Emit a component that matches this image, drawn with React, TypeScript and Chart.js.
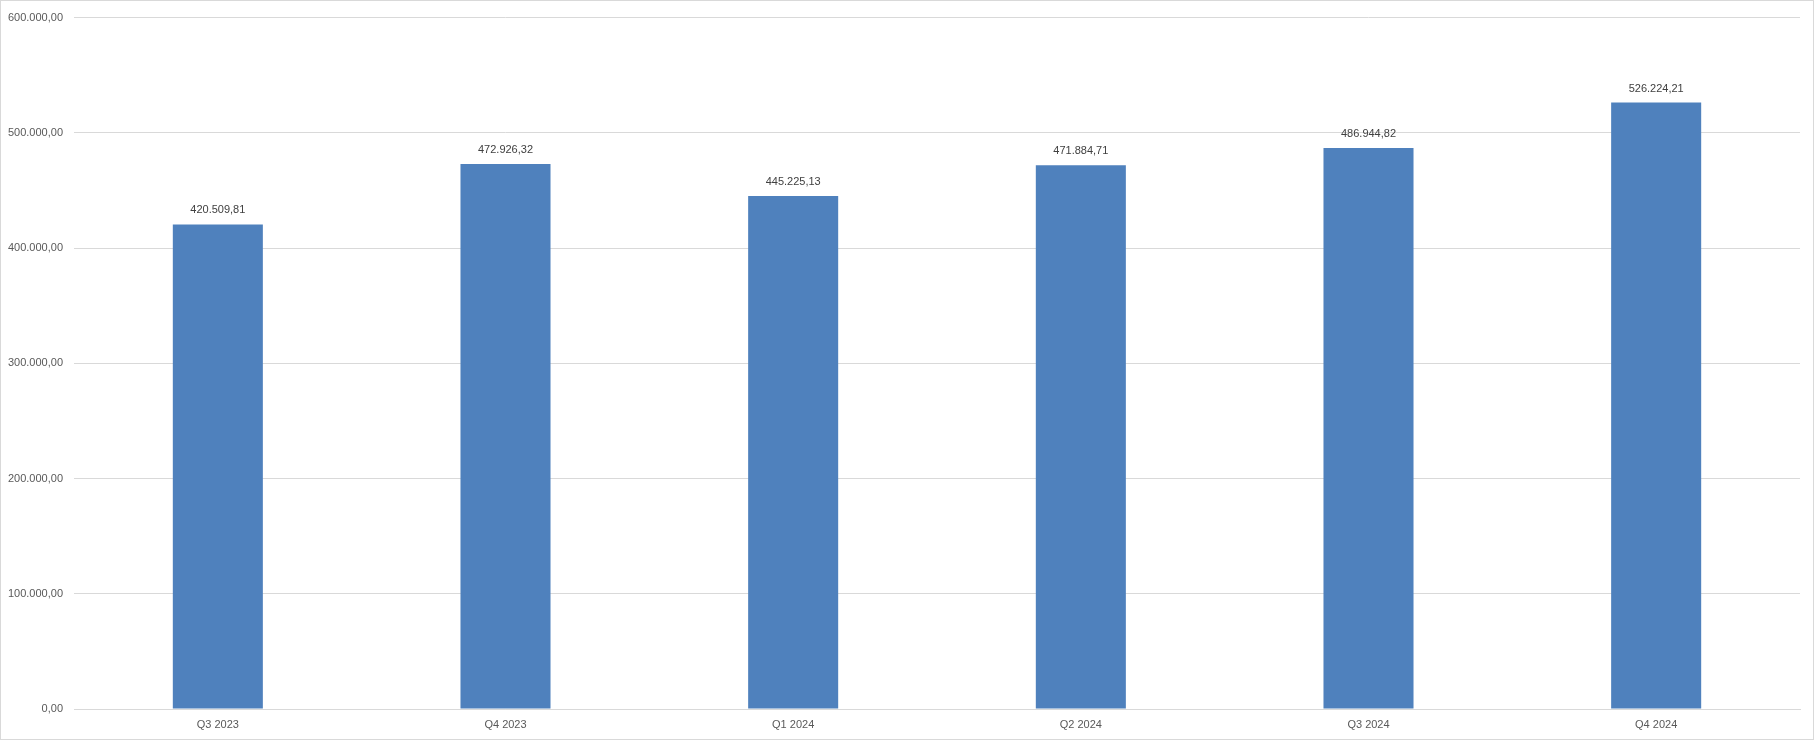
import React, { useEffect, useRef } from "react";
import { Chart, registerables } from "chart.js";

Chart.register(...registerables);

const categories = ["Q3 2023", "Q4 2023", "Q1 2024", "Q2 2024", "Q3 2024", "Q4 2024"];
const seriesValues = [420509.81, 472926.32, 445225.13, 471884.71, 486944.82, 526224.21];
const yMin = 0;
const yMax = 600000;
const yStep = 100000;

const fmt = (v: number) => {
  const fixed = Math.abs(v).toFixed(2);
  const [intPart, dec] = fixed.split(".");
  const withDots = intPart.replace(/\B(?=(\d{3})+(?!\d))/g, ".");
  return (v < 0 ? "-" : "") + withDots + "," + dec;
};

const FONT = "'Liberation Sans', Arial, sans-serif";

export default function App() {
  const ref = useRef<HTMLCanvasElement | null>(null);
  useEffect(() => {
    if (!ref.current) return;
    const borderPlugin = {
      id: "outerBorder",
      beforeDraw(chart: any) {
        const { ctx, width, height } = chart;
        ctx.save();
        ctx.fillStyle = "#ffffff";
        ctx.fillRect(0, 0, width, height);
        ctx.strokeStyle = "#d9d9d9";
        ctx.lineWidth = 1;
        ctx.strokeRect(0.5, 0.5, width - 1, height - 1);
        ctx.restore();
      },
    };
    const labelPlugin = {
      id: "valueLabels",
      afterDatasetsDraw(chart: any) {
        const { ctx } = chart;
        const meta = chart.getDatasetMeta(0);
        ctx.save();
        ctx.font = `11px ${FONT}`;
        ctx.fillStyle = "#404040";
        ctx.textAlign = "center";
        ctx.textBaseline = "middle";
        meta.data.forEach((bar: any, i: number) => {
          ctx.fillText(fmt(seriesValues[i]), bar.x, bar.y - 14);
        });
        ctx.restore();
      },
    };
    const chart = new Chart(ref.current, {
      type: "bar",
      data: {
        labels: categories,
        datasets: [
          {
            data: seriesValues,
            backgroundColor: "#4F81BD",
            borderWidth: 0,
            categoryPercentage: 1,
            barPercentage: 0.313,
          },
        ],
      },
      options: {
        responsive: false,
        animation: false,
        devicePixelRatio: 1,
        layout: { padding: { top: 15, right: 14, bottom: 0, left: 0 } },
        plugins: {
          legend: { display: false },
          tooltip: { enabled: false },
        },
        scales: {
          x: {
            grid: { display: false, drawTicks: false },
            border: { display: true, color: "#d9d9d9", width: 1 },
            ticks: {
              color: "#595959",
              font: { family: FONT, size: 11 },
              padding: 9,
              maxRotation: 0,
            },
            afterFit(scale: any) {
              scale.height = 31;
            },
          },
          y: {
            min: yMin,
            max: yMax,
            grid: { color: "#d9d9d9", drawTicks: false },
            border: { display: false },
            ticks: {
              stepSize: yStep,
              color: "#595959",
              font: { family: FONT, size: 11 },
              padding: 11,
              callback: (v: any) => fmt(Number(v)),
            },
            afterFit(scale: any) {
              scale.width = 74;
            },
          },
        },
      },
      plugins: [borderPlugin, labelPlugin],
    });
    return () => chart.destroy();
  }, []);
  return (
    <div style={{ position: "fixed", left: 0, top: 0, width: 1814, height: 740, background: "#fff" }}>
      <canvas ref={ref} width={1814} height={740} style={{ display: "block", width: 1814, height: 740 }} />
    </div>
  );
}
